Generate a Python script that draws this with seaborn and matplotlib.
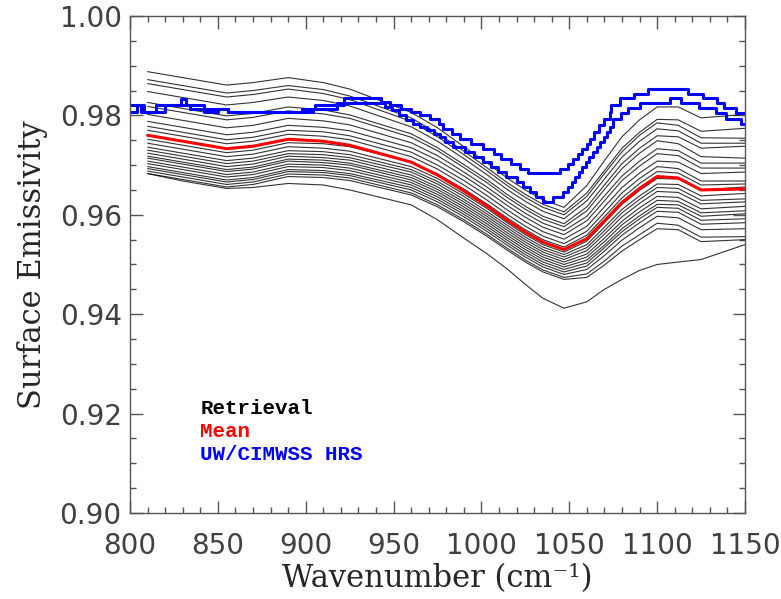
import numpy as np
import pandas as pd
import seaborn as sns
import matplotlib.pyplot as plt
from matplotlib.ticker import MultipleLocator

# wavenumber grid of the retrievals (cm-1)
wn = [810, 830, 855, 870, 890, 910, 925, 960, 975, 990, 1003, 1015,
      1025, 1035, 1047, 1060, 1070, 1080, 1090, 1100, 1112, 1125, 1150]

# retrieved surface emissivity, one list per retrieval
retrievals = [
    [.9888, .9876, .9861, .9866, .9876, .9866, .9853, .9806, .9775, .9737, .9705, .9673, .9650, .9630, .9615, .9659, .9709, .9757, .9791, .9817, .9817, .9795, .9802],
    [.9872, .9860, .9845, .9850, .9860, .9852, .9839, .9795, .9764, .9728, .9695, .9664, .9641, .9621, .9606, .9644, .9689, .9734, .9766, .9792, .9791, .9768, .9774],
    [.9864, .9852, .9837, .9842, .9853, .9844, .9832, .9788, .9757, .9721, .9689, .9658, .9635, .9615, .9600, .9637, .9683, .9727, .9760, .9785, .9780, .9755, .9754],
    [.9848, .9836, .9821, .9826, .9837, .9830, .9819, .9777, .9748, .9713, .9681, .9650, .9627, .9607, .9592, .9628, .9672, .9716, .9748, .9773, .9769, .9744, .9744],
    [.9826, .9814, .9799, .9804, .9817, .9811, .9801, .9763, .9735, .9701, .9671, .9640, .9617, .9597, .9582, .9616, .9660, .9703, .9734, .9759, .9757, .9734, .9738],
    [.9818, .9806, .9791, .9796, .9809, .9803, .9794, .9756, .9729, .9695, .9665, .9634, .9611, .9591, .9576, .9608, .9651, .9693, .9724, .9749, .9743, .9717, .9714],
    [.9802, .9790, .9775, .9780, .9794, .9789, .9781, .9745, .9719, .9686, .9656, .9626, .9603, .9583, .9568, .9597, .9638, .9678, .9708, .9733, .9729, .9704, .9704],
    [.9788, .9776, .9761, .9766, .9780, .9776, .9769, .9735, .9710, .9678, .9648, .9618, .9595, .9575, .9560, .9588, .9628, .9669, .9698, .9723, .9719, .9694, .9694],
    [.9778, .9766, .9751, .9756, .9770, .9767, .9759, .9726, .9700, .9669, .9639, .9609, .9586, .9566, .9551, .9577, .9616, .9655, .9684, .9708, .9706, .9683, .9686],
    [.9770, .9758, .9743, .9748, .9762, .9758, .9751, .9717, .9692, .9660, .9630, .9600, .9577, .9557, .9542, .9567, .9605, .9644, .9673, .9697, .9693, .9668, .9668],
    [.9752, .9740, .9725, .9730, .9745, .9743, .9737, .9706, .9682, .9652, .9622, .9593, .9570, .9550, .9535, .9559, .9596, .9634, .9663, .9687, .9684, .9660, .9662],
    [.9744, .9732, .9717, .9722, .9737, .9734, .9728, .9697, .9673, .9642, .9613, .9583, .9560, .9540, .9525, .9547, .9584, .9621, .9649, .9673, .9672, .9650, .9656],
    [.9736, .9724, .9709, .9714, .9729, .9727, .9721, .9691, .9667, .9637, .9607, .9578, .9555, .9535, .9520, .9540, .9575, .9611, .9638, .9662, .9661, .9638, .9643],
    [.9730, .9718, .9703, .9708, .9723, .9721, .9715, .9686, .9662, .9631, .9602, .9573, .9550, .9530, .9515, .9534, .9568, .9604, .9631, .9655, .9653, .9629, .9632],
    [.9724, .9712, .9697, .9702, .9718, .9715, .9710, .9680, .9656, .9626, .9597, .9568, .9545, .9525, .9510, .9528, .9561, .9596, .9623, .9647, .9645, .9622, .9626],
    [.9718, .9706, .9691, .9696, .9712, .9710, .9704, .9675, .9651, .9621, .9592, .9563, .9540, .9520, .9505, .9521, .9553, .9587, .9614, .9637, .9635, .9612, .9617],
    [.9714, .9702, .9687, .9692, .9708, .9705, .9700, .9670, .9646, .9616, .9587, .9558, .9535, .9515, .9500, .9515, .9546, .9580, .9606, .9629, .9627, .9604, .9608],
    [.9708, .9696, .9681, .9686, .9702, .9700, .9694, .9665, .9641, .9611, .9582, .9553, .9530, .9510, .9495, .9509, .9539, .9572, .9598, .9621, .9620, .9597, .9602],
    [.9703, .9691, .9676, .9681, .9697, .9695, .9689, .9660, .9636, .9606, .9577, .9548, .9525, .9505, .9490, .9503, .9534, .9566, .9592, .9615, .9613, .9589, .9592],
    [.9697, .9685, .9670, .9675, .9691, .9689, .9683, .9655, .9631, .9601, .9572, .9543, .9520, .9500, .9485, .9497, .9527, .9559, .9584, .9607, .9605, .9581, .9584],
    [.9693, .9681, .9666, .9671, .9687, .9685, .9679, .9650, .9626, .9596, .9567, .9538, .9515, .9495, .9480, .9490, .9518, .9549, .9574, .9597, .9594, .9570, .9572],
    [.9688, .9676, .9661, .9666, .9682, .9680, .9674, .9644, .9620, .9590, .9561, .9532, .9509, .9489, .9474, .9481, .9507, .9537, .9560, .9583, .9579, .9555, .9556],
    [.9683, .9671, .9656, .9661, .9677, .9675, .9669, .9640, .9616, .9586, .9557, .9528, .9505, .9485, .9470, .9474, .9499, .9527, .9550, .9572, .9570, .9546, .9550],
    [.9683, .9668, .9653, .9655, .9663, .9660, .9650, .9620, .9590, .9553, .9522, .9490, .9460, .9432, .9412, .9425, .9450, .9470, .9488, .9500, .9505, .9510, .9540],
]

# mean of the retrievals
mean_emis = [.9760, .9748, .9733, .9738, .9752, .9748, .9740, .9706, .9680, .9648, .9618, .9588,
             .9565, .9545, .9530, .9552, .9588, .9625, .9653, .9677, .9674, .9650, .9652]

# UW/CIMWSS HRS emissivity, two spectra given as step edges
hrs1_wn = [800, 806, 815, 829, 832, 842, 856, 898, 905, 922,
           943, 948, 954, 960, 965, 971, 976, 978, 983, 988,
           994, 1001, 1007, 1011, 1017, 1022, 1026.5, 1044.5, 1049, 1052,
           1055, 1057, 1060, 1062, 1064, 1067, 1070, 1073, 1074, 1079,
           1087, 1095, 1117.5, 1126, 1134, 1138, 1145, 1150]
hrs1 = [.9820, .9807, .9820, .9833, .9820, .9813, .9807, .9813, .9820, .9834,
        .9827, .9820, .9813, .9807, .9800, .9793, .9783, .9773, .9763, .9753,
        .9743, .9733, .9723, .9713, .9703, .9693, .9685, .9693, .9703, .9713,
        .9723, .9733, .9743, .9753, .9767, .9780, .9793, .9807, .9820, .9834,
        .9844, .9854, .9844, .9834, .9824, .9814, .9804, .9804]

hrs2_wn = [800, 804, 808, 820, 834, 842, 850, 856, 904, 918,
           945, 949, 953, 957, 961, 965, 969, 973, 976.3, 979,
           984, 990.5, 996, 1001, 1005.5, 1009.5, 1014, 1020, 1023.5, 1027.5,
           1031, 1035, 1040.7, 1046.4, 1049.5, 1051.5, 1053.5, 1055.5, 1057.5, 1059.5,
           1061.5, 1063.5, 1065.5, 1067.5, 1069.5, 1071.5, 1073, 1074.8, 1079.6, 1083.4,
           1090, 1107.5, 1113.7, 1124, 1133.6, 1139, 1147.8, 1150]
hrs2 = [.9807, .9820, .9807, .9820, .9813, .9807, .9813, .9807, .9813, .9824,
        .9817, .9810, .9800, .9790, .9783, .9776, .9770, .9763, .9757, .9746,
        .9736, .9726, .9716, .9706, .9696, .9686, .9676, .9666, .9656, .9646,
        .9636, .9626, .9636, .9646, .9656, .9666, .9676, .9686, .9696, .9706,
        .9716, .9726, .9736, .9746, .9757, .9767, .9777, .9793, .9804, .9814,
        .9824, .9834, .9824, .9814, .9804, .9793, .9783, .9783]

sns.set_theme(style='ticks')
plt.rcParams['font.family'] = ['DejaVu Sans']

# long table for the retrievals
rows = []
for i, curve in enumerate(retrievals):
    for w, e in zip(wn, curve):
        rows.append((i, w, e))
ret_df = pd.DataFrame(rows, columns=['curve', 'wn', 'emis'])

fig = plt.figure(figsize=(7.81, 5.99), dpi=100)
ax = fig.add_axes([0.1665, 0.1436, 0.7874, 0.8297])

sns.lineplot(data=ret_df, x='wn', y='emis', units='curve', estimator=None,
             color='black', lw=0.8, alpha=0.8, legend=False, ax=ax)
sns.lineplot(x=wn, y=mean_emis, estimator=None, color='red', lw=2.2, ax=ax)
sns.lineplot(x=hrs1_wn, y=hrs1, estimator=None, color='blue', lw=2.2,
             drawstyle='steps-post', ax=ax)
sns.lineplot(x=hrs2_wn, y=hrs2, estimator=None, color='blue', lw=2.2,
             drawstyle='steps-post', ax=ax)

ax.set_xlim(800, 1150)
ax.set_ylim(0.90, 1.00)
ax.xaxis.set_major_locator(MultipleLocator(50))
ax.xaxis.set_minor_locator(MultipleLocator(10))
ax.yaxis.set_major_locator(MultipleLocator(0.02))
ax.yaxis.set_minor_locator(MultipleLocator(0.005))
ax.yaxis.set_major_formatter('{x:.2f}')

ax.tick_params(which='both', direction='in', top=True, right=True,
               color='#555555', width=1)
ax.tick_params(which='major', length=9, labelsize=20, labelcolor='#404040')
ax.tick_params(which='minor', length=4.5)
ax.tick_params(axis='x', which='major', pad=14)
ax.tick_params(axis='y', which='major', pad=6)
for s in ax.spines.values():
    s.set_color('#555555')
    s.set_linewidth(1)

ax.set_xlabel('Wavenumber (cm⁻¹)', family='DejaVu Serif', fontsize=22, labelpad=2)
ax.set_ylabel('Surface Emissivity', family='DejaVu Serif', fontsize=22, labelpad=8)

# legend as coloured text
legend_font = dict(family='Liberation Mono', fontweight='bold', fontsize=15,
                   va='center', transform=ax.transAxes)
ax.text(0.114, 0.211, 'Retrieval', color='black', **legend_font)
ax.text(0.114, 0.163, 'Mean', color='red', **legend_font)
ax.text(0.114, 0.117, 'UW/CIMWSS HRS', color='blue', **legend_font)

fig.savefig('out.png', dpi=100)
